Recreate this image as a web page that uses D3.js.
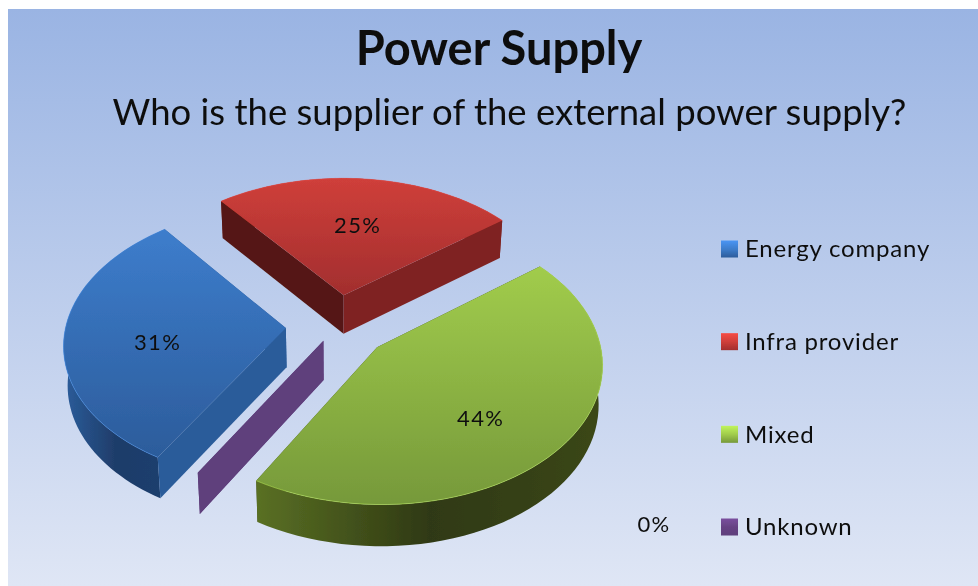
<!DOCTYPE html>
<html><head><meta charset="utf-8">
<script src="https://cdn.jsdelivr.net/npm/d3@7/dist/d3.min.js"></script>
<style>html,body{margin:0;padding:0;background:#fff}svg{display:block}text{font-family:Lato,"Open Sans",sans-serif;fill:#111}</style>
</head><body>
<script>
const categories = ["Energy company","Infra provider","Mixed","Unknown"];
const values = [31,25,44,0];
const valueLabels = ["31%","25%","44%","0%"];
const topColors = ["#3d7dcc","#cf3f3a","#a1cc4c","#664284"];
const bottomColors = ["#2c5c9b","#a22e2e","#76993a","#5f3f7c"];
const cutColorA = ["#2a5c9a","#541812","#3b4716","#5f3f7c"];
const cutColorB = ["#2a5c9a","#7f2320","#3b4716","#5f3f7c"];
const wallStops = [["#2b5d9b","#1f3d6a","#1f3f6e"],["#7f2320","#7f2320","#7f2320"],["#5a7024","#2f3913","#3b4716"],["#5f3f7c","#5f3f7c","#5f3f7c"]];

const W=978,H=586,cx=337.5,cy=326,R=220,k=0.616,persp=0.107,depth=39;
const explode=d=>d.value===0?0.125:0.235;
const svg=d3.select("body").append("svg").attr("width",W).attr("height",H);
const defs=svg.append("defs");
const bg=defs.append("linearGradient").attr("id","bg").attr("x1",0).attr("x2",0).attr("y1",0).attr("y2",1);
bg.append("stop").attr("offset",0).attr("stop-color","#9ab4e3");
bg.append("stop").attr("offset",1).attr("stop-color","#dfe6f5");
defs.append("filter").attr("id","soft").attr("x","-5%").attr("y","-5%").attr("width","110%").attr("height","110%")
  .append("feGaussianBlur").attr("stdDeviation",0.6);
svg.append("rect").attr("x",8).attr("y",9).attr("width",W-8).attr("height",H-9).attr("fill","url(#bg)");

categories.forEach((c,i)=>{
  const f=defs.append("linearGradient").attr("id","face"+i).attr("x1",0).attr("x2",0).attr("y1",0).attr("y2",1);
  f.append("stop").attr("offset",0).attr("stop-color",topColors[i]);
  f.append("stop").attr("offset",1).attr("stop-color",bottomColors[i]);
  const w=defs.append("linearGradient").attr("id","wall"+i);
  wallStops[i].forEach((s,j)=>w.append("stop").attr("offset",[0,.5,1][j]).attr("stop-color",s));
  const m=defs.append("linearGradient").attr("id","key"+i).attr("x1",0).attr("x2",0).attr("y1",0).attr("y2",1);
  m.append("stop").attr("offset",0).attr("stop-color",d3.color(topColors[i]).brighter(.5));
  m.append("stop").attr("offset",.5).attr("stop-color",topColors[i]);
  m.append("stop").attr("offset",1).attr("stop-color",bottomColors[i]);
});

const rad=d=>d*Math.PI/180;
const pie=d3.pie().sort(null).startAngle(rad(-149.6)).endAngle(rad(210.4));
const arcs=pie(values);

// world -> screen, with a simple perspective
function proj(a,r,d,low){
  const e=explode(d),mid=(d.startAngle+d.endAngle)/2;
  const X=e*Math.sin(mid)+r*Math.sin(a), Y=-e*Math.cos(mid)-r*Math.cos(a);
  const s=1/(1-persp*Y);
  let x=cx+s*X*R, y=cy+s*k*Y*R;
  if(low){ x=cx+(x-cx)*0.985; y+=depth*Math.sqrt(s); }
  return [x,y];
}
const angles=d=>d3.range(0,61).map(i=>d.startAngle+(d.endAngle-d.startAngle)*i/60);
const line=d3.line();

const g=svg.append("g").attr("filter","url(#soft)");
// painter order: back to front
[1,0,3,2].forEach(i=>{
  const d=arcs[i],as=angles(d);
  const topRim=as.map(a=>proj(a,1,d,false));
  const lowRim=as.map(a=>proj(a,1,d,true));
  const apexT=proj(0,0,d,false),apexL=proj(0,0,d,true);
  const cutA=()=>g.append("path").attr("d",line([apexT,topRim[0],lowRim[0],apexL])+"Z").attr("fill",cutColorA[i]);
  const cutB=()=>g.append("path").attr("d",line([apexT,topRim[60],lowRim[60],apexL])+"Z").attr("fill",cutColorB[i]);
  const frontA=-Math.sin(d.startAngle)>0, frontB=Math.sin(d.endAngle)>0;
  if(!frontA) cutA();
  if(!frontB) cutB();
  if(d.value>0) g.append("path").attr("d",line(topRim.concat(lowRim.slice().reverse()))+"Z").attr("fill",`url(#wall${i})`);
  if(frontA) cutA();
  if(frontB) cutB();
  if(d.value>0){
    g.append("path").attr("d",line([apexT].concat(topRim))+"Z").attr("fill",`url(#face${i})`);
    g.append("path").attr("d",line(topRim)).attr("fill","none")
      .attr("stroke",d3.color(topColors[i]).brighter(.4)).attr("stroke-width",1).attr("stroke-opacity",.55);
  }
});

// value labels
const labelR=0.58, labelDy=[9,0,15];
arcs.forEach((d,i)=>{
  if(d.value===0) return;
  const mid=(d.startAngle+d.endAngle)/2,p=proj(mid,labelR,d,false);
  g.append("text").attr("x",p[0]).attr("y",p[1]+labelDy[i]).attr("dy","0.35em")
    .attr("text-anchor","middle").attr("font-size",22).attr("letter-spacing",1.3).text(valueLabels[i]);
});
g.append("text").attr("x",654).attr("y",524).attr("dy","0.35em").attr("text-anchor","middle")
  .attr("font-size",22).attr("letter-spacing",1.3).text(valueLabels[3]);

// legend
const ly=d3.scalePoint().domain(categories).range([249,527]);
categories.forEach((c,i)=>{
  g.append("rect").attr("x",721).attr("y",ly(c)-8.5).attr("width",17).attr("height",17).attr("fill",`url(#key${i})`);
  g.append("text").attr("x",745).attr("y",ly(c)).attr("dy","0.35em").attr("font-size",24).attr("letter-spacing",0.8).text(c);
});

// titles
g.append("text").attr("x",499).attr("y",65).attr("text-anchor","middle").attr("font-size",47).attr("font-weight",700).text("Power Supply");
g.append("text").attr("x",509.5).attr("y",125).attr("text-anchor","middle").attr("font-size",36.5).text("Who is the supplier of the external power supply?");
</script>
</body></html>
